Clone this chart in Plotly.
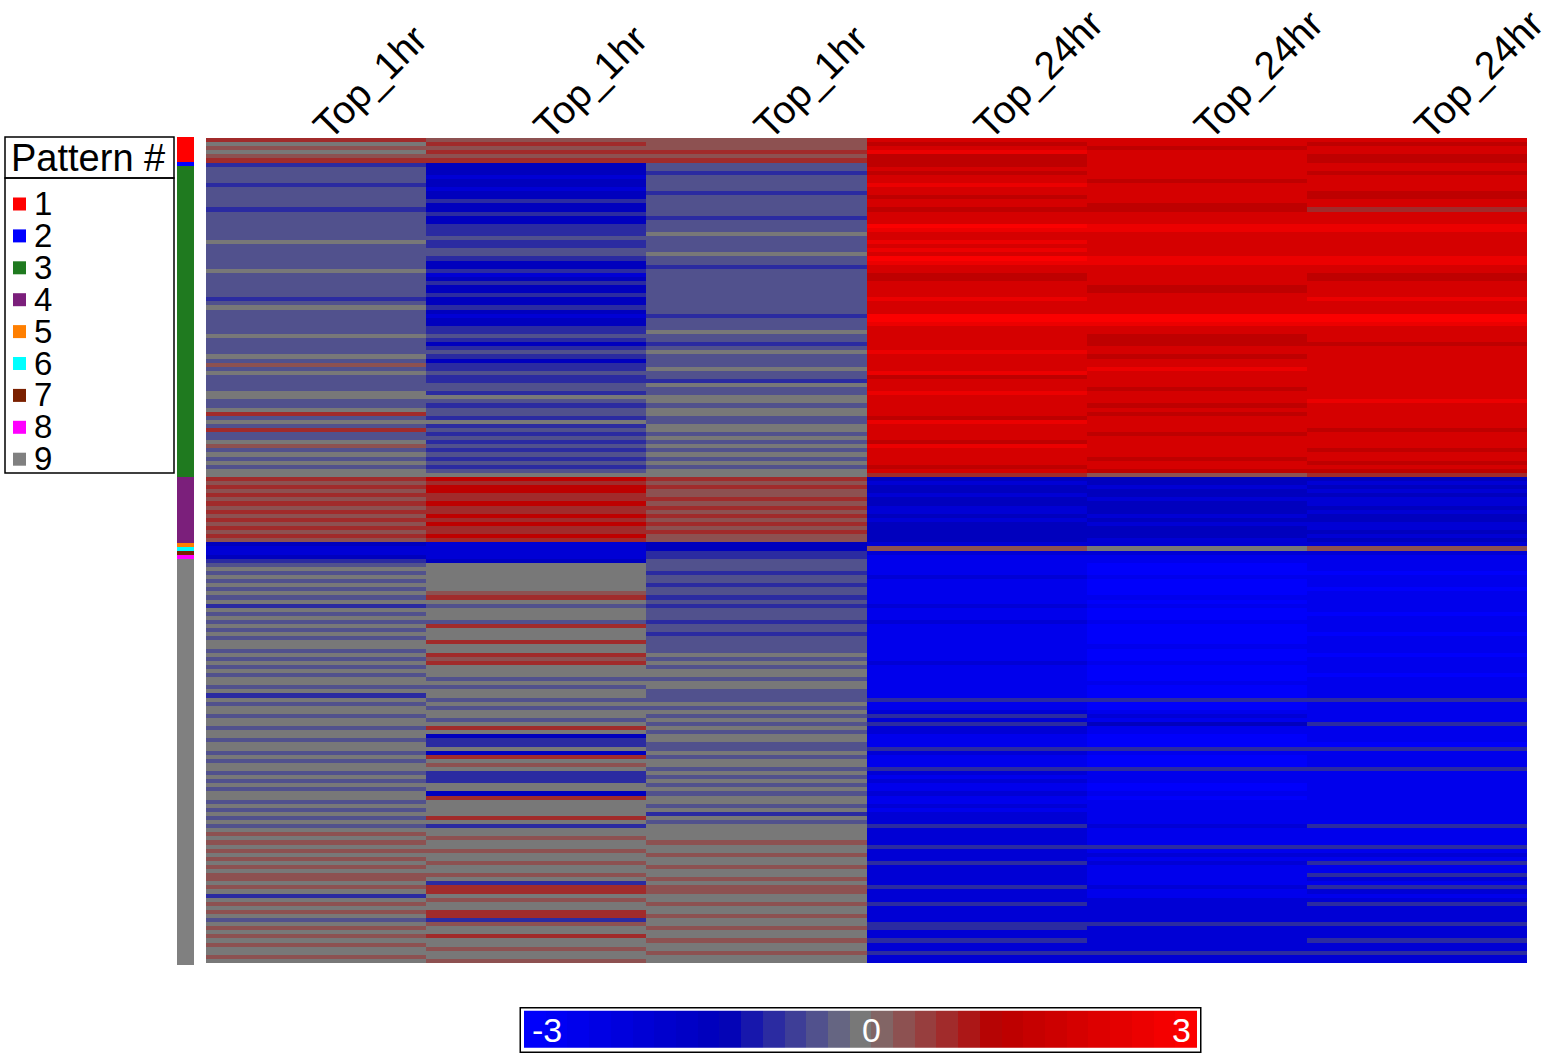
import plotly.graph_objects as go

W, H = 1551, 1058
FONT = "Liberation Sans, Arial, sans-serif"

# =========================
# DATA
# =========================

column_labels = ["Top_1hr", "Top_1hr", "Top_1hr", "Top_24hr", "Top_24hr", "Top_24hr"]

pattern_ids = [1, 2, 3, 4, 5, 6, 7, 8, 9]
pattern_colors = ["#ff0000", "#0000ff", "#1f7a1f", "#7b1f7b", "#ff7f00",
                  "#00ffff", "#7a2000", "#ff00ff", "#808080"]

# one letter per column, one string per gene row
levels = {"A": -3.0, "B": -2.5, "C": -2.0, "D": -1.4, "E": -0.8, "F": -0.3, "G": 0.0,
          "H": 0.3, "I": 0.8, "J": 1.3, "K": 2.0, "L": 2.5, "M": 3.0}

p1_rows = ["IHHKKK", "GIHJKJ", "HHHKJK", "GIILKK", "HHHJKJ", "IIIJKJ"]

p2_rows = ["EDFJKK"]

p3_rows = [
    "FDFKKK", "FDEJKJ", "FCFKKK", "FDFKJK", "EDFLKK", "FCFKKK", "FDEKKJ", "FDFJKJ",
    "FEFKKK", "FDFKJK", "EDFJJI", "FEFKKK", "FDEKKK", "FDFKKK", "FEFMLL", "FEFLLL",
    "FEGKKK", "FFFKKK", "GEFLKK", "FEFKKK", "FFFLKK", "FFGKKK", "FEFMLL", "FDFLLL",
    "FDEKKK", "GEFKKK", "FCFJKJ", "FDFJKJ", "FEFKKK", "FDFKJK", "FDFKJK", "FEFKKK",
    "EDFLKL", "FDFKKK", "GEFKKK", "FDFKKK", "FCEMMM", "FDFMMM", "FDFLLL", "FEFKKK",
    "FEGKKK", "GFFKJK", "FEFKJK", "FDEKJJ", "FEFKKK", "FFGLKK", "GEFKJK", "FDFKKK",
    "HEFKKK", "FEGKLK", "GFFLKK", "FEFJKK", "FEEKKK", "FFGKKK", "FFFKJK", "GEFLKK",
    "GGGKKK", "FFGKKL", "FEFKJK", "GFGKKK", "IFGKJK", "FEFJKK", "GGFLKK", "FEGKKK",
    "IFGKKJ", "FEFKJK", "FFGKKK", "GEFJKK", "HFGLKK", "FEFKKJ", "GFGKKK", "FEFKJK",
    "GFGKKJ", "FEFJKK", "GFGKJJ", "GGGIHI",
]

p4_rows = [
    "IJIDDD", "HIHCDC", "IJIDCD", "HJHDDC", "IIHCDD", "HIIDCC", "IJHDDC", "HIICDD",
    "IIHCDC", "HJIDCD", "IIHCDD", "HJIDCC", "IIHDDC", "HIIDDD", "IJHDDC", "HIHDCD",
]

p5_rows = ["DCDCCC"]
p6_rows = ["CCDHGH"]
p7_rows = ["CCECCC"]
p8_rows = ["DCEBBB"]

p9_rows = [
    "EDFBBB", "FGFBAB", "GGFBAB", "FGEBAA", "GGFCBB", "FGFBAB", "GGEBAB", "FGFBAA",
    "GHFBAB", "FIEBBB", "GGFBAB", "EFECBB", "GGFBAB", "FGFBAA", "GGFBAB", "FFECBB",
    "GIFBAB", "FGFBAB", "GGEBAA", "FGFBAB", "GIFBAB", "GGFBBB", "FGFBAB", "GIGBAA",
    "FHFBAB", "GIGCBB", "FGFBAB", "GGGBAB", "FGGBAA", "GFFBAB", "GGGBBB", "FFGBAB",
    "GGFBAB", "EGFBAB", "GFFEEE", "FGGBAB", "GFFBAB", "GGGCBB", "FGFECB", "GFGCBB",
    "GGFEDE", "FIGCBB", "GGFCBB", "GDGBAB", "FEGBAB", "GEFBAA", "GGFEEE", "FDGCBB",
    "GIFBAB", "FGGBAB", "GHGBAB", "GGFEEE", "FEGCBB", "GEFBBB", "FEGCBB", "GGFBAB",
    "FGGBAB", "GDFCBB", "GIGBAB", "FGGBBB", "GGFCBB", "FGGBBB", "GGECBB", "FIGCBB",
    "GGFCBB", "FEGECE", "GGGCBB", "HGGCBB", "GHGCBB", "HGHCBB", "GGGEEE", "HHGCBB",
    "GGHCCC", "HGGCBB", "GHGECE", "HGHCBB", "GGGCBB", "HHGCBE", "HGHCBC", "GEGCBB",
    "HIHECE", "GIHCBC", "EGGCBB", "GHGCCC", "HGHECE", "GGGCCC", "HIGCCC", "GIHCCC",
    "FEGCCC", "GHGEEE", "HGHECC", "GGGCCC", "HIGCCC", "GGHECE", "HGGCCC", "GHGCCC",
    "GGHEEE", "HGGCCC", "GHGCCC",
]

pattern_rows = [p1_rows, p2_rows, p3_rows, p4_rows, p5_rows, p6_rows, p7_rows, p8_rows, p9_rows]

# =========================
# BUILD MATRICES
# =========================

z = []
row_pattern = []
for pid, rows in zip(pattern_ids, pattern_rows):
    for r in rows:
        z.append([levels[c] for c in r])
        row_pattern.append([pid])


def px_x(p):
    return p / W


def px_y(p):
    return 1 - p / H


# stepped blue - gray - red scale
anchors = [(-3.0, (0, 0, 255)), (-1.2, (0, 0, 184)), (0.0, (120, 120, 120)),
           (1.2, (184, 0, 0)), (3.0, (255, 0, 0))]


def color_at(v):
    for (v0, c0), (v1, c1) in zip(anchors[:-1], anchors[1:]):
        if v0 <= v <= v1:
            t = (v - v0) / (v1 - v0)
            rgb = [round(a + (b - a) * t) for a, b in zip(c0, c1)]
            return "rgb(%d,%d,%d)" % tuple(rgb)
    return "rgb(255,0,0)"


n_steps = 31
heat_scale = []
for i in range(n_steps):
    c = color_at(-3 + (i + 0.5) * 6 / n_steps)
    heat_scale.append([i / n_steps, c])
    heat_scale.append([(i + 1) / n_steps, c])

side_scale = []
for i, c in enumerate(pattern_colors):
    side_scale.append([i / 9, c])
    side_scale.append([(i + 1) / 9, c])

# =========================
# FIGURE
# =========================

fig = go.Figure()

fig.add_trace(go.Heatmap(
    z=z,
    x=list(range(len(column_labels))),
    zmin=-3, zmax=3,
    colorscale=heat_scale,
    colorbar=dict(
        orientation="h",
        x=px_x(860.5), xanchor="center",
        y=px_y(1029.5), yanchor="middle",
        len=679, lenmode="pixels",
        thickness=37, thicknessmode="pixels",
        outlinewidth=0,
        bordercolor="black", borderwidth=1.5,
        xpad=3, ypad=3,
        bgcolor="white",
        showticklabels=False, ticks="",
    ),
    hoverinfo="skip",
    xaxis="x", yaxis="y",
))

fig.add_trace(go.Heatmap(
    z=row_pattern,
    zmin=0.5, zmax=9.5,
    colorscale=side_scale,
    showscale=False,
    hoverinfo="skip",
    xaxis="x2", yaxis="y2",
))

fig.update_layout(
    width=W, height=H,
    margin=dict(l=0, r=0, t=0, b=0, autoexpand=False),
    paper_bgcolor="white", plot_bgcolor="white",
    font=dict(family=FONT, color="black"),
    showlegend=False,
    xaxis=dict(
        domain=[px_x(206), px_x(1527)],
        side="top",
        range=[-0.5, 5.5],
        tickvals=list(range(len(column_labels))),
        ticktext=column_labels,
        tickangle=-45,
        ticklabeloverflow="allow",
        ticklabelstandoff=-18,
        tickfont=dict(size=39, family=FONT, color="black"),
        ticks="", showgrid=False, zeroline=False, showline=False,
    ),
    yaxis=dict(
        domain=[px_y(963), px_y(138)],
        autorange="reversed",
        showticklabels=False, ticks="", showgrid=False, zeroline=False,
    ),
    xaxis2=dict(
        domain=[px_x(177), px_x(194)],
        anchor="y2",
        showticklabels=False, ticks="", showgrid=False, zeroline=False,
    ),
    yaxis2=dict(
        domain=[px_y(965), px_y(137)],
        anchor="x2",
        autorange="reversed",
        showticklabels=False, ticks="", showgrid=False, zeroline=False,
    ),
)

# =========================
# PATTERN LEGEND BOX
# =========================

shapes = [
    dict(type="rect", xref="paper", yref="paper",
         x0=px_x(5), x1=px_x(174), y0=px_y(178), y1=px_y(137),
         line=dict(color="black", width=1.5), fillcolor="white", layer="above"),
    dict(type="rect", xref="paper", yref="paper",
         x0=px_x(5), x1=px_x(174), y0=px_y(473), y1=px_y(178),
         line=dict(color="black", width=1.5), fillcolor="rgba(0,0,0,0)", layer="above"),
]
annotations = [
    dict(text="Pattern #", xref="paper", yref="paper", x=px_x(9), y=px_y(158),
         xanchor="left", yanchor="middle", showarrow=False,
         font=dict(size=38, family=FONT, color="black")),
]

for i, (pid, c) in enumerate(zip(pattern_ids, pattern_colors)):
    cy = 204 + i * 31.9
    shapes.append(dict(type="rect", xref="paper", yref="paper",
                       x0=px_x(13), x1=px_x(26), y0=px_y(cy + 6.5), y1=px_y(cy - 6.5),
                       line=dict(width=0), fillcolor=c, layer="above"))
    annotations.append(dict(text=str(pid), xref="paper", yref="paper",
                            x=px_x(32), y=px_y(cy - 1), xanchor="left", yanchor="middle",
                            height=30, showarrow=False,
                            font=dict(size=33, family=FONT, color="black")))

# colorbar ticks and labels drawn in white inside the bar
for xp in (526, 1196):
    shapes.append(dict(type="line", xref="paper", yref="paper",
                       x0=px_x(xp), x1=px_x(xp), y0=px_y(1048), y1=px_y(1011),
                       line=dict(color="white", width=2.5), layer="above"))

annotations += [
    dict(text="-3", xref="paper", yref="paper", x=px_x(530), y=px_y(1030),
         xanchor="left", yanchor="middle", showarrow=False,
         font=dict(size=34, family=FONT, color="white")),
    dict(text="0", xref="paper", yref="paper", x=px_x(871), y=px_y(1030),
         xanchor="center", yanchor="middle", showarrow=False,
         font=dict(size=34, family=FONT, color="white")),
    dict(text="3", xref="paper", yref="paper", x=px_x(1193), y=px_y(1030),
         xanchor="right", yanchor="middle", showarrow=False,
         font=dict(size=34, family=FONT, color="white")),
]

fig.update_layout(shapes=shapes, annotations=annotations)

fig.write_html(
    "out.html",
    config={"displayModeBar": False},
    post_script="document.body.style.margin='0';document.body.style.overflow='hidden';",
)
